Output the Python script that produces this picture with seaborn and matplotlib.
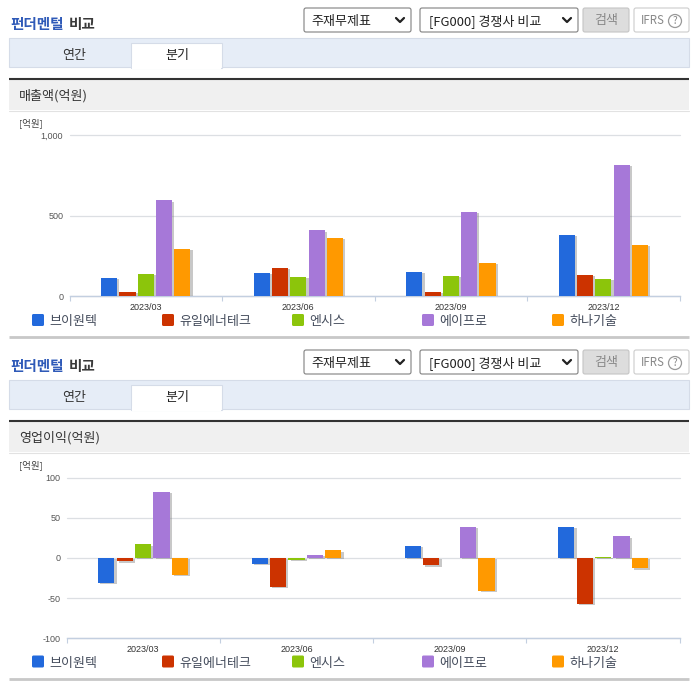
import matplotlib
matplotlib.use('Agg')
import matplotlib.pyplot as plt
import matplotlib.patheffects as pe
from matplotlib.patches import Rectangle, FancyBboxPatch, Circle
import seaborn as sns
import pandas as pd

W, H = 696, 684

quarters = ['2023/03', '2023/06', '2023/09', '2023/12']
companies = ['브이원텍', '유일에너테크', '엔시스', '에이프로', '하나기술']
colors = ['#2269dc', '#cc3300', '#8cc50b', '#a678d8', '#ff9900']

sales_v1 = [116, 148, 154, 383]
sales_yuil = [27, 179, 27, 133]
sales_nsys = [139, 123, 127, 108]
sales_apro = [597, 410, 527, 816]
sales_hana = [296, 364, 208, 321]

op_v1 = [-31, -7.5, 15, 39]
op_yuil = [-4, -36, -9, -57]
op_nsys = [17, -2, 0, 1.5]
op_apro = [82, 4, 39, 27]
op_hana = [-21, 9.6, -41, -13]

sales_ticks = [0, 500, 1000]
sales_labels = ['0', '500', '1,000']
op_ticks = [-100, -50, 0, 50, 100]
op_labels = ['-100', '-50', '0', '50', '100']

sns.set_style('white')
plt.rcParams['font.family'] = ['Noto Sans CJK KR', 'DejaVu Sans']

fig = plt.figure(figsize=(W / 100, H / 100), dpi=100)
bg = fig.add_axes([0, 0, 1, 1])
bg.set_xlim(0, W)
bg.set_ylim(H, 0)
bg.axis('off')


def px(size):
    return size * 0.72


def rbox(x0, y0, x1, y1, face='white', edge='#a0a0a0'):
    bg.add_patch(FancyBboxPatch((x0 + 2, y0 + 2), x1 - x0 - 4, y1 - y0 - 4,
                                boxstyle='round,pad=2', fc=face, ec=edge, lw=0.8))


def chevron(x, y):
    bg.plot([x - 4, x, x + 4], [y - 2, y + 2, y - 2], color='#222', lw=1.6)


# page furniture around one chart, dy shifts the second panel down
def panel(dy, heading, bottom_y, legend_y):
    bg.text(10, 24.5 + dy, '펀더멘털', color='#2f5ab8', fontsize=px(14.6), fontweight='bold', va='center')
    bg.text(69, 24.5 + dy, '비교', color='#3a3a3a', fontsize=px(14.6), fontweight='bold', va='center')

    rbox(304, 8 + dy, 411, 32 + dy, edge='#808080')
    bg.text(311, 21 + dy, '주재무제표', color='#222', fontsize=px(13), va='center')
    chevron(400, 20 + dy)
    rbox(420, 8 + dy, 578, 32 + dy, edge='#808080')
    bg.text(429, 21 + dy, '[FG000] 경쟁사 비교', color='#222', fontsize=px(13), va='center')
    chevron(567, 20 + dy)
    rbox(583, 8 + dy, 629, 32 + dy, face='#dddddd', edge='#c4c4c4')
    bg.text(606, 20.5 + dy, '검색', color='#888888', fontsize=px(13), ha='center', va='center')
    rbox(634, 8 + dy, 689, 32 + dy, edge='#cccccc')
    bg.text(641, 20 + dy, 'IFRS', color='#888888', fontsize=px(11.5), va='center')
    bg.add_patch(Circle((675, 21 + dy), 6.5, fc='white', ec='#999999', lw=0.9))
    bg.text(675, 21 + dy, '?', color='#888888', fontsize=px(10), ha='center', va='center')

    bg.add_patch(Rectangle((9, 38 + dy), 680, 29, fc='#e6edf7', ec='#d5dce8', lw=0.8))
    bg.add_patch(Rectangle((131, 43 + dy), 91, 25, fc='white', ec='#d5dce8', lw=0.8))
    bg.add_patch(Rectangle((131.6, 64 + dy), 89.8, 5, fc='white', ec='none'))
    bg.text(74, 55 + dy, '연간', color='#333', fontsize=px(13), ha='center', va='center')
    bg.text(177, 55.5 + dy, '분기', color='#222', fontsize=px(13), ha='center', va='center')

    bg.add_patch(Rectangle((9, 80 + dy), 680, 30, fc='#f0f0f0', ec='none'))
    bg.plot([9, 689], [79 + dy, 79 + dy], color='#333333', lw=1.5, solid_capstyle='butt')
    bg.plot([9, 689], [110.5 + dy, 110.5 + dy], color='#e2e2e2', lw=0.8)
    bg.text(19, 96 + dy, heading, color='#333', fontsize=px(13), va='center')
    bg.text(19, 123 + dy, '[억원]', color='#444', fontsize=px(9.5), va='center')

    for x, name, c in zip([32, 162, 292, 422, 552], companies, colors):
        bg.add_patch(FancyBboxPatch((x + 1.5, legend_y - 4.5), 9, 9, boxstyle='round,pad=1.5', fc=c, ec='none'))
        bg.text(x + 17, legend_y + 1.5, name, color='#444c5c', fontsize=px(13), va='center')

    bg.plot([9, 689], [bottom_y, bottom_y], color='#c8c8c8', lw=2, solid_capstyle='butt')


# one bar chart, box given in pixels from the top left
def chart(series, ticks, labels, left, right, top, bottom):
    ax = fig.add_axes([left / W, 1 - bottom / H, (right - left) / W, (bottom - top) / H])
    ax.patch.set_alpha(0)
    df = pd.DataFrame(dict(zip(companies, series)), index=quarters).rename_axis('quarter').reset_index()
    df = df.melt(id_vars='quarter', var_name='company', value_name='value')
    sns.barplot(data=df, x='quarter', y='value', hue='company', hue_order=companies,
                palette=colors, width=0.6, gap=0.12, saturation=1, legend=False, ax=ax, zorder=3,
                edgecolor='none', linewidth=0)
    for bar in ax.patches:
        bar.set_path_effects([pe.SimplePatchShadow(offset=(1.6, -1), shadow_rgbFace='#777777', alpha=0.4),
                              pe.Normal()])
    ax.set_xlim(-0.5, 3.5)
    ax.set_ylim(ticks[0], ticks[-1])
    ax.set_yticks(ticks, labels, family='Liberation Sans')
    ax.set_xticks(range(4), quarters, family='Liberation Sans')
    ax.set_xlabel('')
    ax.set_ylabel('')
    ax.set_xticks([-0.5, 0.5, 1.5, 2.5, 3.5], minor=True)
    ax.grid(axis='y', color='#dcdfe3', lw=0.9, clip_on=False)
    ax.set_axisbelow(True)
    sns.despine(ax=ax, left=True)
    ax.spines['bottom'].set_color('#c3cfe0')
    ax.spines['bottom'].set_linewidth(1)
    ax.tick_params(axis='x', which='minor', length=3.5, width=0.8, color='#c3cfe0', bottom=True)
    ax.tick_params(axis='x', which='major', length=0, pad=4.5, labelsize=px(9), labelcolor='#333333')
    ax.tick_params(axis='y', length=0, pad=4.5, labelsize=px(9), labelcolor='#555555')
    return ax


panel(0, '매출액(억원)', 336.8, 320)
panel(342, '영업이익(억원)', 678.8, 661.5)

chart([sales_v1, sales_yuil, sales_nsys, sales_apro, sales_hana], sales_ticks, sales_labels,
      69.5, 679.7, 135.5, 296.3)
chart([op_v1, op_yuil, op_nsys, op_apro, op_hana], op_ticks, op_labels,
      66.5, 679.7, 477.5, 638.3)

fig.savefig('out.png', dpi=100)
